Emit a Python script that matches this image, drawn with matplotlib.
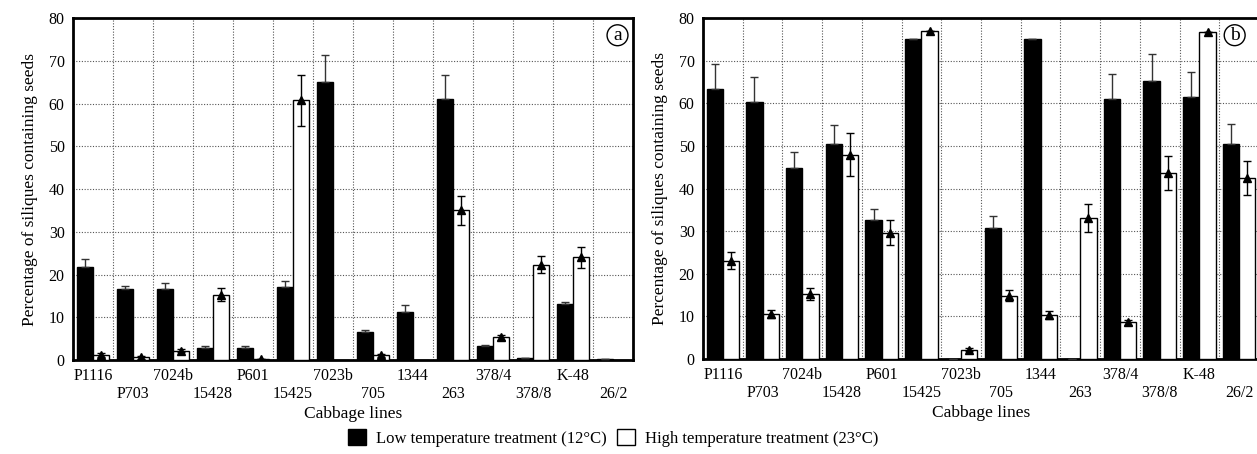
import numpy as np
import matplotlib
matplotlib.use("Agg")
import matplotlib.pyplot as plt
from matplotlib.patches import Patch

plt.rcParams['font.family'] = ['Liberation Serif', 'DejaVu Serif']

#cabbage lines, same order in both panels
lines = ["P1116", "P703", "7024b", "15428", "P601", "15425", "7023b",
         "705", "1344", "263", "378/4", "378/8", "K-48", "26/2"]

#panel a
low_a = [21.7, 16.6, 16.6, 2.8, 2.9, 17.2, 65.0, 6.6, 11.3, 61.0, 3.2, 0.4, 13.0, 0.3]
low_a_err = [2.0, 0.8, 1.5, 0.5, 0.4, 1.3, 6.4, 0.4, 1.6, 5.6, 0.4, 0, 0.6, 0]
high_a = [1.2, 0.6, 2.2, 15.3, 0.3, 60.8, 0, 1.1, 0, 35.0, 5.3, 22.3, 24.0, 0]
high_a_err = [0.5, 0.3, 0.4, 1.6, 0, 6.0, 0, 0.3, 0, 3.4, 0.5, 2.0, 2.5, 0]

#panel b
low_b = [63.4, 60.3, 44.8, 50.4, 32.6, 75.0, 0, 30.8, 75.2, 0, 61.1, 65.3, 61.4, 50.5]
low_b_err = [5.8, 5.8, 3.9, 4.6, 2.7, 0, 0, 2.8, 0, 0, 5.8, 6.4, 5.9, 4.7]
high_b = [23.1, 10.6, 15.3, 48.0, 29.7, 77.0, 2.2, 14.9, 10.4, 33.2, 8.6, 43.7, 76.8, 42.5]
high_b_err = [2.0, 1.0, 1.5, 5.0, 2.9, 0, 0.3, 1.3, 1.0, 3.3, 0.6, 4.0, 0, 4.0]


def draw_panel(ax, low, low_err, high, high_err, tag):
    x = np.arange(len(lines))
    w = 0.41
    low = np.array(low)
    high = np.array(high)
    ax.bar(x - w/2, low, w, color="black", edgecolor="black", zorder=3)
    ax.bar(x + w/2, high, w, color="white", edgecolor="black", linewidth=1, zorder=3)
    #one sided error bars on the low temperature bars
    ax.errorbar(x - w/2, low, yerr=[np.zeros(len(low)), low_err], fmt="none",
                ecolor="#333333", elinewidth=1, capsize=3, zorder=4)
    #triangles with error bars on the high temperature bars
    ym = np.where(high > 0, high, np.nan)
    ax.errorbar(x + w/2, ym, yerr=high_err, fmt="^", color="black", ms=6,
                ecolor="black", elinewidth=1, capsize=3, zorder=5)

    ax.set_xlim(-0.5, len(lines) - 0.5)
    ax.set_ylim(0, 80)
    ax.set_yticks(range(0, 81, 10))
    ax.tick_params(axis="y", length=0, labelsize=11.5, pad=6)
    ax.set_xticks(x)
    ax.set_xticklabels([l if i % 2 == 0 else "\n" + l for i, l in enumerate(lines)],
                       linespacing=1.15)
    ax.tick_params(axis="x", length=0, labelsize=11.5, pad=6)
    for b in np.arange(0.5, len(lines) - 0.5, 1):
        ax.axvline(b, color="#555555", ls=(0, (1, 1.5)), lw=0.8, zorder=1)
    for yv in range(10, 80, 10):
        ax.axhline(yv, color="#555555", ls=(0, (1, 1.5)), lw=0.8, zorder=1)
    for s in ax.spines.values():
        s.set_linewidth(2)
    ax.set_xlabel("Cabbage lines", fontsize=12.5, labelpad=3)
    ax.set_ylabel("Percentage of siliques containing seeds", fontsize=12.5, labelpad=8)
    ax.text(0.98, 0.95, tag, transform=ax.transAxes, ha="right", va="center",
            fontsize=14, zorder=6,
            bbox=dict(boxstyle="circle,pad=0.1", fc="white", ec="black", lw=1))


fig = plt.figure(figsize=(12.57, 4.54), dpi=100)
ax1 = fig.add_axes([0.0581, 0.207, 0.4455, 0.753])
ax2 = fig.add_axes([0.5593, 0.209, 0.4423, 0.751])

draw_panel(ax1, low_a, low_a_err, high_a, high_a_err, "a")
draw_panel(ax2, low_b, low_b_err, high_b, high_b_err, "b")
ax2.texts[-1].set_position((0.965, 0.95))

handles = [Patch(facecolor="black", edgecolor="black"),
           Patch(facecolor="white", edgecolor="black")]
fig.legend(handles, ["Low temperature treatment (12°C)", "High temperature treatment (23°C)"],
           loc="center", bbox_to_anchor=(0.488, 0.035), ncol=2, frameon=False,
           fontsize=12, handlelength=1.1, handleheight=1.1, handletextpad=0.6,
           columnspacing=0.6)

fig.savefig("out.png", dpi=100)
